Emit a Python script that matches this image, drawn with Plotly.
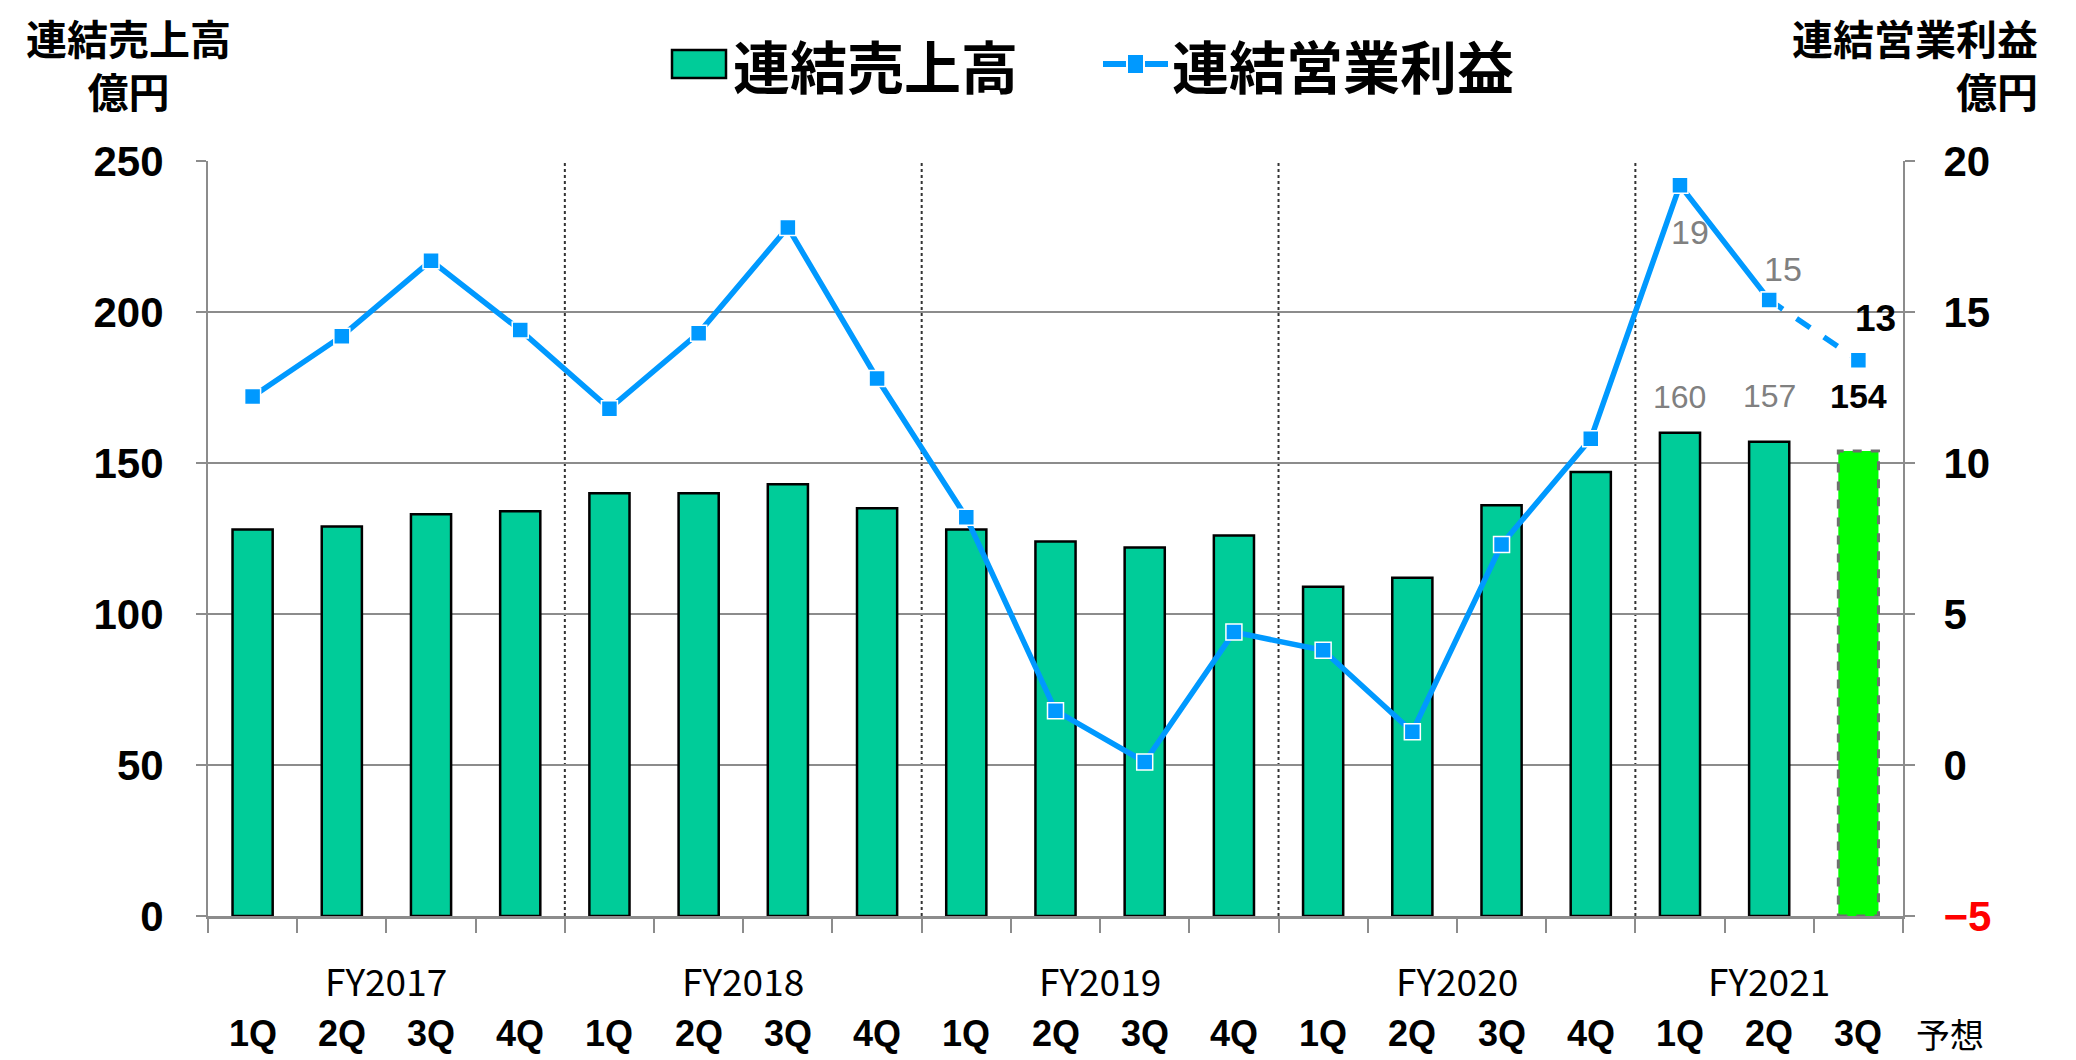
import plotly.graph_objects as go

# ---------------- data ----------------
quarters = ["1Q", "2Q", "3Q", "4Q", "1Q", "2Q", "3Q", "4Q", "1Q", "2Q", "3Q", "4Q",
            "1Q", "2Q", "3Q", "4Q", "1Q", "2Q", "3Q"]
fiscal_years = ["FY2017", "FY2018", "FY2019", "FY2020", "FY2021"]
fy_first_idx = [0, 4, 8, 12, 16]
fy_last_idx = [3, 7, 11, 15, 18]
sales = [128, 129, 133, 134, 140, 140, 143, 135, 128, 124, 122, 126,
         109, 112, 136, 147, 160, 157, 154]
op_profit = [12.2, 14.2, 16.7, 14.4, 11.8, 14.3, 17.8, 12.8, 8.2, 1.8, 0.1, 4.4,
             3.8, 1.1, 7.3, 10.8, 19.2, 15.4, 13.4]
sales_label_idx = [16, 17, 18]
profit_label_idx = [16, 17, 18]
forecast_idx = 18
left_ticks = [0, 50, 100, 150, 200, 250]
right_ticks = [-5, 0, 5, 10, 15, 20]

# ---------------- styles ----------------
BAR = "#00CC99"
FORECAST_BAR = "#00FF00"
LINE = "#0099FF"
GRID = "#8C8C8C"
JP = "Noto Sans CJK JP"
NUM = "Liberation Sans Narrow, Liberation Sans, Arial"
BAR_W = 0.45

n = len(sales)
xs = list(range(n))

fig = go.Figure()

# actual bars
fig.add_trace(go.Bar(
    x=xs[:forecast_idx], y=sales[:forecast_idx], width=BAR_W,
    marker=dict(color=BAR, line=dict(color="black", width=2.5)),
    showlegend=False, hoverinfo="skip"))
# forecast bar
fig.add_trace(go.Bar(
    x=[xs[forecast_idx]], y=[sales[forecast_idx]], width=BAR_W,
    marker=dict(color=FORECAST_BAR, line=dict(width=0)),
    showlegend=False, hoverinfo="skip"))
fig.add_shape(type="rect", xref="x", yref="y",
              x0=xs[forecast_idx] - BAR_W / 2, x1=xs[forecast_idx] + BAR_W / 2,
              y0=0, y1=sales[forecast_idx],
              line=dict(color="#6F6F6F", width=3, dash="dash"), layer="above")

# operating profit line
MARK = dict(symbol="square", size=16, color=LINE, line=dict(color="white", width=1.5))
fig.add_trace(go.Scatter(
    x=xs[:forecast_idx], y=op_profit[:forecast_idx], yaxis="y2", mode="lines+markers",
    line=dict(color=LINE, width=5.5), marker=MARK, showlegend=False, hoverinfo="skip"))
fig.add_trace(go.Scatter(
    x=xs[forecast_idx - 1:], y=op_profit[forecast_idx - 1:], yaxis="y2", mode="lines+markers",
    line=dict(color=LINE, width=5.5, dash="dash"), marker=MARK,
    showlegend=False, hoverinfo="skip"))

# year separators
for last in fy_last_idx[:-1]:
    fig.add_shape(type="line", xref="x", yref="paper", x0=last + 0.5, x1=last + 0.5,
                  y0=0, y1=1, line=dict(color="#333333", width=2, dash="dot"), layer="below")


# screen pixel -> paper helpers (plot area on screen: x 208..1903, y 161..916)
def px_x(p):
    return (p - 208) / 1695


def px_y(p):
    return (916 - p) / 755


annotations = []
# quarter labels
for i, q in enumerate(quarters):
    annotations.append(dict(x=i, y=px_y(1033), xref="x", yref="paper", text=q, showarrow=False,
                            xanchor="center", yanchor="middle",
                            font=dict(family=NUM, size=36, color="black", weight="bold")))
annotations.append(dict(x=px_x(1950), y=px_y(1033), xref="paper", yref="paper", text="予想",
                        showarrow=False, xanchor="center", yanchor="middle",
                        font=dict(family=JP, size=34, color="black")))
# fiscal year labels
for fy, a, b in zip(fiscal_years, fy_first_idx, fy_last_idx):
    annotations.append(dict(x=(a + b) / 2, y=px_y(980), xref="x", yref="paper", text=fy,
                            showarrow=False, xanchor="center", yanchor="middle",
                            font=dict(family=JP, size=37, color="black")))

# data labels
for k, i in enumerate(sales_label_idx):
    bold = i == forecast_idx
    annotations.append(dict(x=i, y=sales[i], xref="x", yref="y", text=f"{sales[i]:.0f}",
                            showarrow=False, yshift=[36, 46, 55][k], yanchor="middle",
                            font=dict(family=NUM if bold else "Liberation Sans",
                                      size=34 if bold else 32,
                                      color="black" if bold else "#808080",
                                      weight="bold" if bold else "normal")))
for k, i in enumerate(profit_label_idx):
    bold = i == forecast_idx
    annotations.append(dict(x=i, y=op_profit[i], xref="x", yref="y2", text=f"{op_profit[i]:.0f}",
                            showarrow=False, yshift=[-47, 31, 42][k], xshift=[10, 14, 17][k],
                            yanchor="middle",
                            font=dict(family=NUM if bold else "Liberation Sans",
                                      size=37 if bold else 34,
                                      color="black" if bold else "#808080",
                                      weight="bold" if bold else "normal")))

# axis titles (two lines each)
TITLE_FONT = dict(family=JP, size=41, color="black", weight="bold")
annotations += [
    dict(x=px_x(128), y=px_y(63), xref="paper", yref="paper", text="連結売上高<br>億円",
         showarrow=False, align="center", xanchor="center", yanchor="middle", font=TITLE_FONT),
    dict(x=px_x(2040), y=px_y(63), xref="paper", yref="paper", text="連結営業利益<br>億円",
         showarrow=False, align="right", xanchor="right", yanchor="middle", font=TITLE_FONT),
]

# custom legend
LEG_FONT = dict(family=JP, size=57, color="black", weight="bold")
fig.add_shape(type="rect", xref="paper", yref="paper", x0=px_x(672), x1=px_x(726),
              y0=px_y(78), y1=px_y(50), fillcolor=BAR, line=dict(color="black", width=2.5))
annotations.append(dict(x=px_x(731), y=px_y(64), xref="paper", yref="paper", text="連結売上高",
                        showarrow=False, xanchor="left", yanchor="middle", font=LEG_FONT))
fig.add_shape(type="line", xref="paper", yref="paper", x0=px_x(1103), x1=px_x(1168),
              y0=px_y(64), y1=px_y(64), line=dict(color=LINE, width=6))
fig.add_shape(type="rect", xref="paper", yref="paper", x0=px_x(1127), x1=px_x(1144),
              y0=px_y(74), y1=px_y(54), fillcolor=LINE, line=dict(color="white", width=2))
annotations.append(dict(x=px_x(1170), y=px_y(64), xref="paper", yref="paper", text="連結営業利益",
                        showarrow=False, xanchor="left", yanchor="middle", font=LEG_FONT))

right_text = [f"<span style='color:#FF0000'>−{abs(v)}</span>" if v < 0 else str(v) for v in right_ticks]

fig.update_layout(
    width=2076, height=1060,
    margin=dict(l=200, r=181, t=153, b=152),
    paper_bgcolor="white", plot_bgcolor="white",
    barmode="overlay",
    showlegend=False,
    annotations=annotations,
    xaxis=dict(range=[-0.5, n - 0.5], tickvals=[i - 0.5 for i in range(n + 1)],
               ticktext=[""] * (n + 1), ticks="outside", ticklen=14, tickwidth=2,
               tickcolor=GRID, showline=True, linecolor=GRID, linewidth=2.5,
               showgrid=False, zeroline=False),
    yaxis=dict(range=[0, 250], tickvals=left_ticks, showgrid=True, gridcolor=GRID, gridwidth=2,
               showline=True, linecolor=GRID, linewidth=2, ticks="outside", ticklen=10,
               tickwidth=2, tickcolor=GRID, zeroline=False, ticklabelstandoff=24,
               tickfont=dict(family=NUM, size=42, color="black", weight="bold")),
    yaxis2=dict(range=[-5, 20], overlaying="y", side="right", tickvals=right_ticks,
                ticktext=right_text, showgrid=False, showline=True, linecolor=GRID,
                linewidth=2, ticks="outside", ticklen=10, tickwidth=2, tickcolor=GRID,
                zeroline=False, ticklabelstandoff=20,
                tickfont=dict(family=NUM, size=42, color="black", weight="bold")),
)

fig.write_html("out.html")
